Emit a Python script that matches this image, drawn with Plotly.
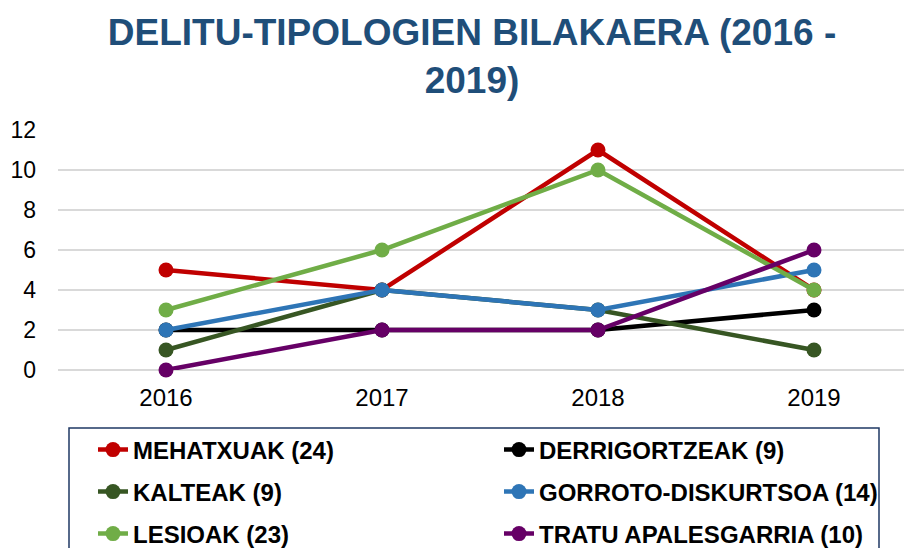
import plotly.graph_objects as go

years = ["2016", "2017", "2018", "2019"]
mehatxuak = [5, 4, 11, 4]
derrigortzeak = [2, 2, 2, 3]
kalteak = [1, 4, 3, 1]
gorroto = [2, 4, 3, 5]
lesioak = [3, 6, 10, 4]
tratu = [0, 2, 2, 6]

series = [
    ("MEHATXUAK (24)", mehatxuak, "#C00000", "legend"),
    ("DERRIGORTZEAK (9)", derrigortzeak, "#000000", "legend"),
    ("KALTEAK (9)", kalteak, "#375623", "legend2"),
    ("GORROTO-DISKURTSOA (14)", gorroto, "#2E75B6", "legend2"),
    ("LESIOAK (23)", lesioak, "#70AD47", "legend3"),
    ("TRATU APALESGARRIA (10)", tratu, "#660066", "legend3"),
]

# page body has an 8px margin, so the figure is laid out in page coords minus 8
OFF = 8
W, H = 912 - OFF, 548 - OFF
ML, MR, MT, MB = 58 - OFF, 0, 130 - OFF, H - (370 - OFF)

fig = go.Figure()
for name, vals, col, lg in series:
    fig.add_trace(go.Scatter(
        x=years, y=vals, name=name, mode="lines+markers",
        line=dict(color=col, width=4.5),
        marker=dict(color=col, size=15),
        cliponaxis=False, legend=lg,
    ))

legfont = dict(family="Liberation Sans, Arial, sans-serif",
               size=24, color="#000000", weight="bold")
rows_y = [450, 492, 534]
leg_common = dict(
    orientation="h", xref="container", yref="container",
    xanchor="left", yanchor="middle",
    entrywidth=361, entrywidthmode="pixels",
    font=legfont, bgcolor="rgba(0,0,0,0)", borderwidth=0,
    itemwidth=30,
)

plot_h = H - MT - MB
def py_to_paper(py):
    return (H - MB - (py - OFF)) / plot_h
plot_w = W - ML - MR
def px_to_paper(px):
    return ((px - OFF) - ML) / plot_w

def lx(px):
    return (px - OFF) / W
def ly(py):
    return 1 - (py - OFF) / H

fig.update_layout(
    width=W, height=H,
    margin=dict(l=ML, r=MR, t=MT, b=MB, pad=0),
    paper_bgcolor="white", plot_bgcolor="white",
    title=dict(
        text="DELITU-TIPOLOGIEN BILAKAERA (2016 -<br>2019)",
        x=lx(472), xanchor="center", xref="container",
        y=ly(45), yanchor="top", yref="container",
        font=dict(family="Liberation Sans, Arial, sans-serif", size=37, color="#1F4E79", weight="bold"),
    ),
    xaxis=dict(
        type="category", categoryorder="array", categoryarray=years,
        range=[-0.5, 3.5 - 10 / 216],
        showgrid=False, zeroline=False, showline=False, ticks="",
        tickfont=dict(family="Liberation Sans, Arial, sans-serif", size=24, color="#000000"),
        ticklabelstandoff=11,
    ),
    yaxis=dict(
        range=[0, 12], dtick=2, tick0=0,
        showgrid=True, gridcolor="#D9D9D9", gridwidth=1.5,
        zeroline=True, zerolinecolor="#D9D9D9", zerolinewidth=1.5,
        showline=False, ticks="",
        tickfont=dict(family="Liberation Sans, Arial, sans-serif", size=23, color="#000000"),
        ticklabelstandoff=21,
    ),
    legend=dict(leg_common, x=lx(93), y=ly(rows_y[0])),
    legend2=dict(leg_common, x=lx(93), y=ly(rows_y[1])),
    legend3=dict(leg_common, x=lx(93), y=ly(rows_y[2])),
    shapes=[dict(
        type="rect", xref="paper", yref="paper",
        x0=px_to_paper(69), x1=px_to_paper(879),
        y0=py_to_paper(428), y1=py_to_paper(570),
        line=dict(color="#1F3864", width=1.5), fillcolor="rgba(0,0,0,0)",
        layer="below",
    )],
)

fig.write_html("out.html")
